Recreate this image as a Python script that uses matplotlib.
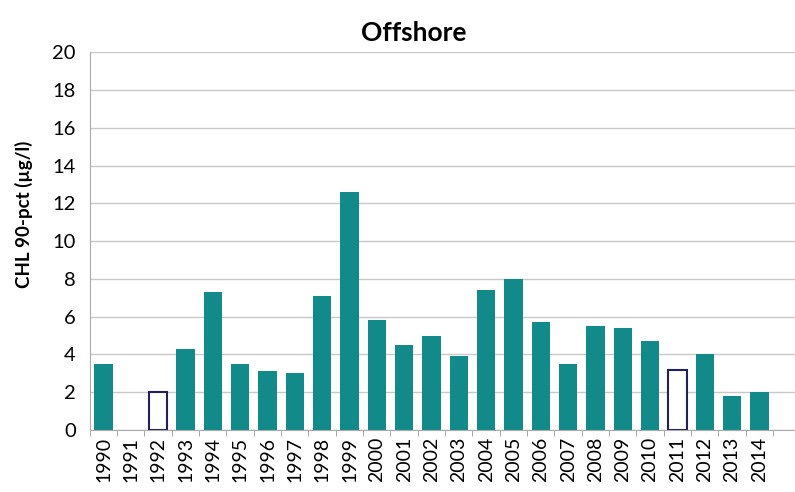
import numpy as np
import matplotlib
matplotlib.use("Agg")
import matplotlib.pyplot as plt

years = [str(y) for y in range(1990, 2015)]
chl = [3.5, 0, 2.0, 4.3, 7.3, 3.5, 3.1, 3.0, 7.1, 12.6, 5.8, 4.5, 5.0, 3.9,
       7.4, 8.0, 5.7, 3.5, 5.5, 5.4, 4.7, 3.15, 4.0, 1.8, 2.0]
# years with incomplete data shown as open bars
open_years = ["1992", "2011"]

plt.rcParams['font.family'] = ['Lato', 'DejaVu Sans']

fig = plt.figure(figsize=(7.95, 4.92), dpi=100)
ax = fig.add_axes([0.113, 0.126, 0.887, 0.768])

x = np.arange(len(years))
for i, (yr, v) in enumerate(zip(years, chl)):
    if v == 0:
        continue
    if yr in open_years:
        ax.bar(i, v, width=0.68, facecolor='white', edgecolor='#1f2060', linewidth=1.5)
    else:
        ax.bar(i, v, width=0.68, color='#138a8a')

ax.set_ylim(0, 20)
ax.set_yticks(range(0, 21, 2))
ax.set_xlim(-0.5, len(years) + 0.3)
ax.set_xticks(x)
ax.set_xticklabels(years, rotation=90, fontsize=14)
ax.set_xticks(np.arange(-0.5, len(years) + 0.5, 1), minor=True)
ax.tick_params(axis='x', which='major', length=0, pad=5)
ax.tick_params(axis='x', which='minor', length=4, color='#999999')
ax.tick_params(axis='y', labelsize=14.5, length=0, pad=10)

ax.grid(axis='y', color='#c8c8c8', linewidth=1)
ax.set_axisbelow(True)
for s in ['top', 'right']:
    ax.spines[s].set_visible(False)
ax.spines['left'].set_color('#aaaaaa')
ax.spines['bottom'].set_color('#aaaaaa')

ax.set_ylabel('CHL 90-pct (µg/l)', fontsize=13.5, fontweight='bold')
ax.yaxis.set_label_coords(-0.08, 0.57)
ax.set_title('Offshore', fontsize=19, fontweight='bold', x=0.46, pad=8)

fig.savefig('out.png', dpi=100)
